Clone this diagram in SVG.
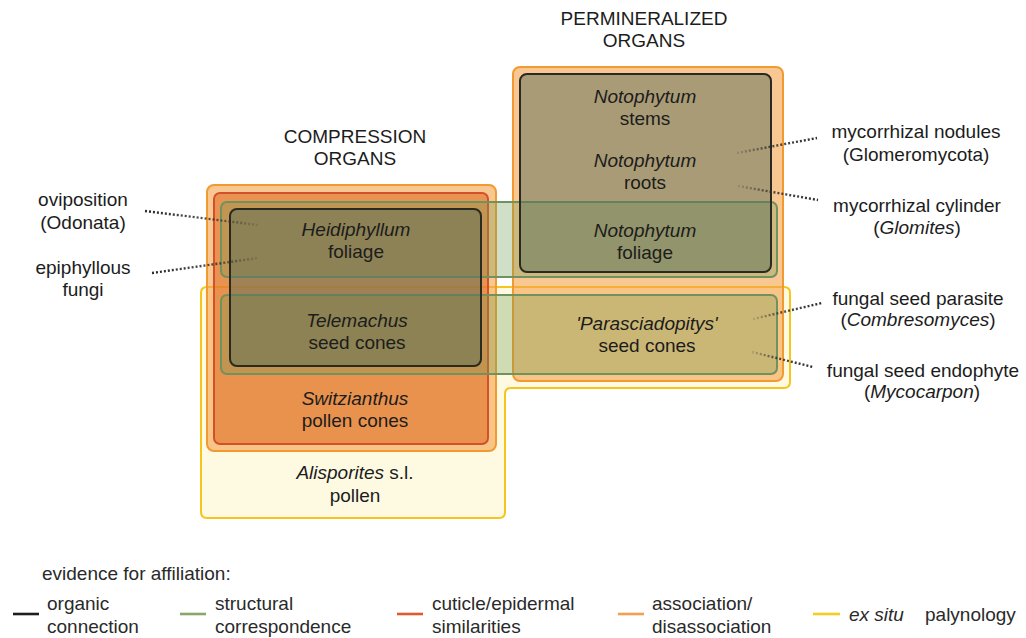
<svg xmlns="http://www.w3.org/2000/svg" width="1026" height="638" viewBox="0 0 1026 638">
<style>
text{font-family:"Liberation Sans",Arial,sans-serif;font-size:19px;fill:#1c1c1c;text-anchor:middle}
.it{font-style:italic}
.lg{text-anchor:start;fill:#2a2a2a}
.yel{fill:#fbf0a0;fill-opacity:.3;stroke:#f6c41c;stroke-width:2}
.ora{fill:#f4a24a;fill-opacity:.6;stroke:#f29a32;stroke-width:2}
.red{fill:#e0702a;fill-opacity:.6;stroke:#d4502a;stroke-width:2}
.grn{fill:#6e9a50;fill-opacity:.32;stroke:#6f925e;stroke-width:2}
.blk{fill:#5a705a;fill-opacity:.5;stroke:#2a2a22;stroke-width:2}
.dot{fill:none;stroke-width:2.4;stroke-dasharray:2 2}
.leg{stroke-width:2.6}
</style>
<defs>
<linearGradient id="fadeR" x1="0" y1="0" x2="1" y2="0"><stop offset="0" stop-color="#2a2a2a"/><stop offset="0.6" stop-color="#2a2a2a" stop-opacity="0.8"/><stop offset="1" stop-color="#2a2a2a" stop-opacity="0.15"/></linearGradient>
<linearGradient id="fadeL" x1="1" y1="0" x2="0" y2="0"><stop offset="0" stop-color="#2a2a2a"/><stop offset="0.6" stop-color="#2a2a2a" stop-opacity="0.8"/><stop offset="1" stop-color="#2a2a2a" stop-opacity="0.15"/></linearGradient>
</defs>

<g id="titles">
<text x="644" y="25">PERMINERALIZED</text>
<text x="644" y="47">ORGANS</text>
<text x="355" y="143">COMPRESSION</text>
<text x="355" y="165">ORGANS</text>
</g>

<g id="alisporites">
<path class="yel" d="M207,287 H784 Q790,287 790,293 V382 Q790,388 784,388 H511 Q505,388 505,394 V512 Q505,518 499,518 H207 Q201,518 201,512 V293 Q201,287 207,287 Z"/>
<text x="355" y="479"><tspan class="it">Alisporites</tspan> s.l.</text>
<text x="355" y="502">pollen</text>
</g>

<g id="association-compression">
<rect class="ora" x="207" y="185" width="289" height="266" rx="7"/>
</g>
<g id="association-permineralized">
<rect class="ora" x="513" y="67" width="270" height="314" rx="7"/>
</g>

<g id="switzianthus">
<rect class="red" x="214" y="193" width="274" height="251" rx="6"/>
<text class="it" x="355" y="405">Switzianthus</text>
<text x="355" y="427">pollen cones</text>
</g>

<g id="foliage-correspondence">
<rect class="grn" x="221" y="202" width="556" height="75" rx="6"/>
</g>
<g id="parasciadopitys">
<rect class="grn" x="221" y="295" width="556" height="79" rx="6"/>
<text class="it" x="647" y="330">'Parasciadopitys'</text>
<text x="647" y="352">seed cones</text>
</g>

<g id="heidiphyllum-telemachus">
<rect class="blk" x="230" y="209" width="251" height="157" rx="7"/>
<text class="it" x="356" y="236">Heidiphyllum</text>
<text x="356" y="258">foliage</text>
<text class="it" x="357" y="327">Telemachus</text>
<text x="357" y="349">seed cones</text>
</g>

<g id="notophytum">
<rect class="blk" x="520" y="74" width="251" height="198" rx="7"/>
<text class="it" x="645" y="103">Notophytum</text>
<text x="645" y="125">stems</text>
<text class="it" x="645" y="167">Notophytum</text>
<text x="645" y="189">roots</text>
<text class="it" x="645" y="237">Notophytum</text>
<text x="645" y="259">foliage</text>
</g>

<g id="connectors">
<line class="dot" x1="145" y1="211" x2="258" y2="225" stroke="url(#fadeR)"/>
<line class="dot" x1="152" y1="273" x2="258" y2="258" stroke="url(#fadeR)"/>
<line class="dot" x1="737" y1="153" x2="817" y2="138" stroke="url(#fadeL)"/>
<line class="dot" x1="738" y1="186" x2="818" y2="200" stroke="url(#fadeL)"/>
<line class="dot" x1="753" y1="319" x2="822" y2="303" stroke="url(#fadeL)"/>
<line class="dot" x1="752" y1="352" x2="813" y2="367" stroke="url(#fadeL)"/>
</g>

<g id="oviposition">
<text x="83" y="206">oviposition</text>
<text x="83" y="229">(Odonata)</text>
</g>
<g id="epiphyllous">
<text x="83" y="274">epiphyllous</text>
<text x="83" y="296">fungi</text>
</g>
<g id="nodules">
<text x="916" y="138">mycorrhizal nodules</text>
<text x="916" y="161">(Glomeromycota)</text>
</g>
<g id="cylinder">
<text x="917" y="212">mycorrhizal cylinder</text>
<text x="917" y="234">(<tspan class="it">Glomites</tspan>)</text>
</g>
<g id="parasite">
<text x="918" y="305">fungal seed parasite</text>
<text x="918" y="326">(<tspan class="it">Combresomyces</tspan>)</text>
</g>
<g id="endophyte">
<text x="923" y="377">fungal seed endophyte</text>
<text x="922" y="398">(<tspan class="it">Mycocarpon</tspan>)</text>
</g>

<g id="legend">
<text class="lg" x="42" y="580">evidence for affiliation:</text>
<line class="leg" x1="13" y1="614" x2="39" y2="614" stroke="#1e1e1e"/>
<text class="lg" x="47" y="610">organic</text>
<text class="lg" x="47" y="633">connection</text>
<line class="leg" x1="180" y1="614" x2="206" y2="614" stroke="#8aa66a"/>
<text class="lg" x="215" y="610">structural</text>
<text class="lg" x="215" y="633">correspondence</text>
<line class="leg" x1="397" y1="614" x2="423" y2="614" stroke="#e05a30"/>
<text class="lg" x="432" y="610">cuticle/epidermal</text>
<text class="lg" x="432" y="633">similarities</text>
<line class="leg" x1="618" y1="614" x2="644" y2="614" stroke="#f2a050"/>
<text class="lg" x="652" y="610">association/</text>
<text class="lg" x="652" y="633">disassociation</text>
<line class="leg" x1="813" y1="614" x2="840" y2="614" stroke="#f5cc22"/>
<text class="lg it" x="849" y="621">ex situ</text>
<text class="lg" x="925" y="621">palynology</text>
</g>
</svg>
